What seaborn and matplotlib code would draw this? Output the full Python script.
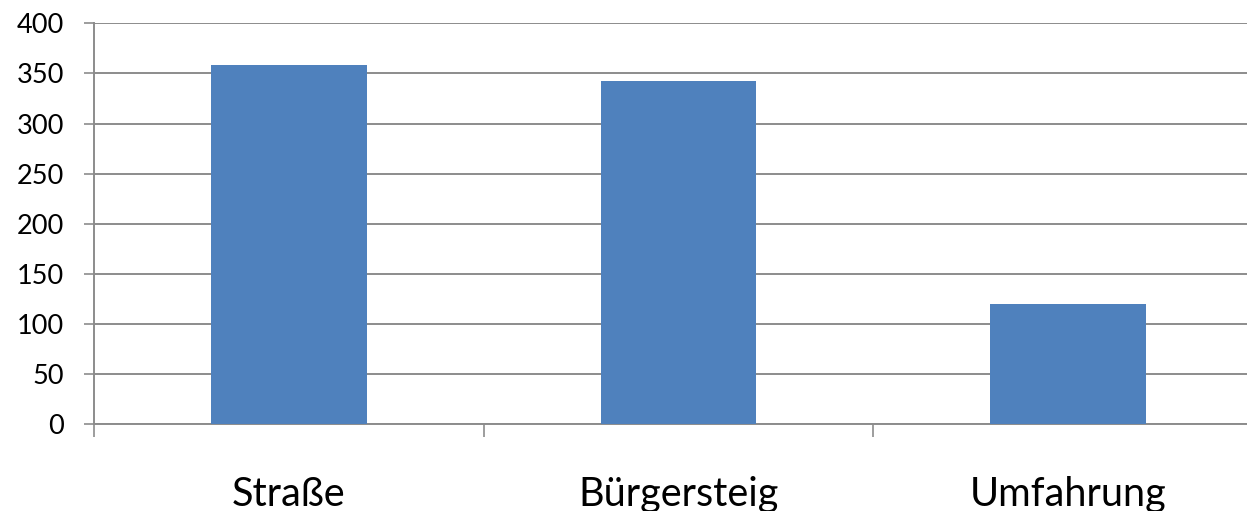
import matplotlib
matplotlib.use("Agg")
import matplotlib.pyplot as plt
import seaborn as sns
import pandas as pd

# Data
categories = ["Straße", "Bürgersteig", "Umfahrung"]
values = [358, 342, 120]
y_ticks = [0, 50, 100, 150, 200, 250, 300, 350, 400]

sns.set_style("white")
plt.rcParams['font.family'] = ['Lato', 'DejaVu Sans']

df = pd.DataFrame({"Kategorie": categories, "Wert": values})

fig = plt.figure(figsize=(12.47, 5.11), dpi=100, facecolor='white')
# axes runs a little past the right edge, as in the cropped original
ax = fig.add_axes([94 / 1247, 86.7 / 511, 1169 / 1247, 401 / 511])

sns.barplot(data=df, x="Kategorie", y="Wert", color="#4F81BD", width=0.4,
            saturation=1, linewidth=0, ax=ax, zorder=3)

grid_col = "#8C8C8C"
ax.set_ylim(0, 400)
ax.set_xlim(-0.5, 2.5)
ax.set_yticks(y_ticks)
ax.yaxis.grid(True, color=grid_col, linewidth=1.4, zorder=0)
ax.set_axisbelow(True)

for side in ["top", "right"]:
    ax.spines[side].set_visible(False)
for side in ["left", "bottom"]:
    ax.spines[side].set_color(grid_col)
    ax.spines[side].set_linewidth(1.4)

# category boundaries as minor ticks, labels at the centres
ax.set_xticks([-0.5, 0.5, 1.5, 2.5], minor=True)
ax.tick_params(which='both', bottom=True, left=True)
ax.tick_params(axis='x', which='minor', length=9.5, width=1.2, color=grid_col, direction='out')
ax.tick_params(axis='x', which='major', length=0, pad=37, labelsize=28.5, labelcolor='black')
ax.tick_params(axis='y', which='major', length=7.5, width=1.2, color=grid_col, direction='out',
               pad=14, labelsize=19.5, labelcolor='black')

ax.set_xlabel("")
ax.set_ylabel("")

plt.savefig("out.png", dpi=100, facecolor='white')
plt.close()
